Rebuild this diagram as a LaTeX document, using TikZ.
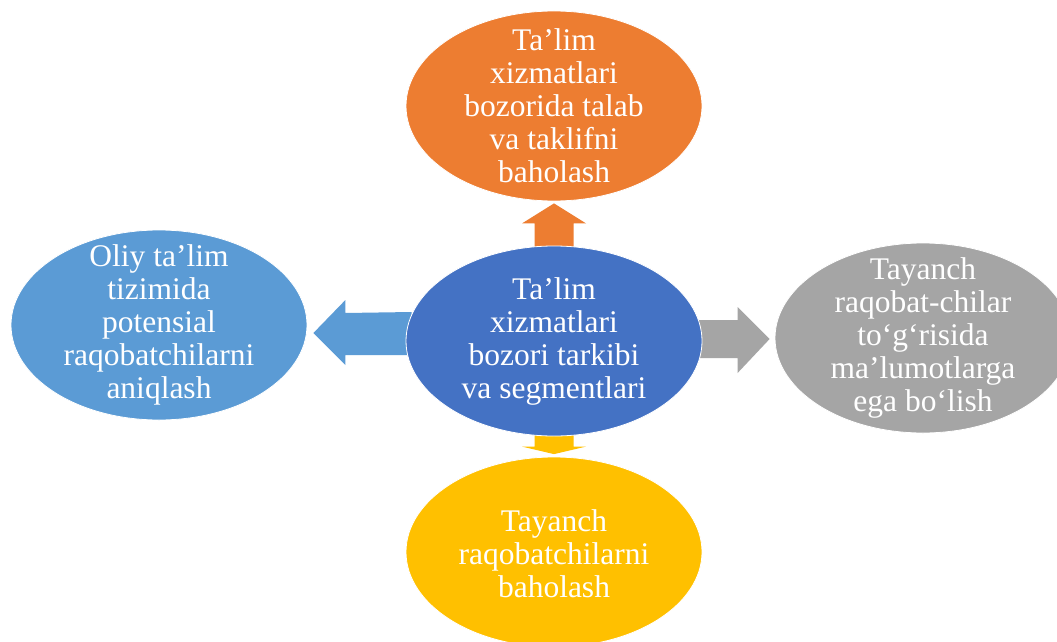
\documentclass[tikz,border=0pt]{standalone}
\usepackage{fontspec}
\setmainfont{Liberation Serif}
\newfontfamily\tnr{Liberation Serif}
\usetikzlibrary{shapes.geometric,calc}
\definecolor{corange}{HTML}{ED7D31}
\definecolor{cblue}{HTML}{4472C4}
\definecolor{clight}{HTML}{5B9BD5}
\definecolor{cgray}{HTML}{A5A5A5}
\definecolor{cyellow}{HTML}{FFC000}
\begin{document}
\begin{tikzpicture}[x=1pt,y=-1pt,
  blob/.style={ellipse,minimum width=296pt,minimum height=190pt,inner sep=0pt,draw=white,line width=0.8pt},
  txt/.style={text=white,align=center,font=\tnr\fontsize{31.5}{33}\selectfont,inner sep=0pt}]
\fill[white] (0,0) rectangle (1057,642);
\useasboundingbox (0,0) rectangle (1057,642);
\begin{scope}
\clip (0,0) rectangle (1057,642);
% outer ellipses
\node[blob,fill=corange] (top) at (554,106) {};
\node[blob,fill=clight] (left) at (159,325) {};
\node[blob,fill=cgray] (right) at (923,338) {};
\node[blob,fill=cyellow] (bottom) at (554,552) {};
% centre position (for anchors)
\node[blob,draw=none] (c0) at (554,341) {};
% arrows
\coordinate (ta) at ($(top.south)+(0,2)$);
\fill[corange] ($(c0.north)+(-19.5,6)$) -- ($(ta)+(-19.5,20)$) -- ($(ta)+(-32,20)$) -- (ta)
  -- ($(ta)+(32,20)$) -- ($(ta)+(19.5,20)$) -- ($(c0.north)+(19.5,6)$) -- cycle;
\coordinate (la) at ($(left.east)+(6,8)$);
\fill[clight] ($(c0.west)+(6,-29)$) -- ($(la)+(32,-20)$) -- ($(la)+(32,-33)$) -- (la)
  -- ($(la)+(32,32)$) -- ($(la)+(32,22)$) -- ($(c0.west)+(6,14)$) -- cycle;
\coordinate (ra) at ($(right.west)+(-5,1)$);
\fill[cgray] ($(c0.east)+(-4,-21)$) -- ($(ra)+(-32,-19)$) -- ($(ra)+(-32,-32)$) -- (ra)
  -- ($(ra)+(-32,34)$) -- ($(ra)+(-32,19)$) -- ($(c0.east)+(-4,17)$) -- cycle;
\coordinate (ba) at ($(bottom.north)+(0,-2.5)$);
\fill[cyellow] ($(c0.south)+(-19.5,-6)$) -- ($(ba)+(-19.5,-7.5)$) -- ($(ba)+(-32,-7.5)$) -- (ba)
  -- ($(ba)+(32,-7.5)$) -- ($(ba)+(19.5,-7.5)$) -- ($(c0.south)+(19.5,-6)$) -- cycle;
% centre ellipse
\node[blob,fill=cblue] (c) at (c0) {};
% texts
\node[txt] (ttop) at (top) {Ta’lim\\xizmatlari\\bozorida talab\\va taklifni\\baholash};
\node[txt] (tleft) at (left) {Oliy ta’lim\\tizimida\\potensial\\raqobatchilarni\\aniqlash};
\node[txt] (tright) at (right) {Tayanch\\raqobat-chilar\\to‘g‘risida\\ma’lumotlarga\\ega bo‘lish};
\node[txt] (tbottom) at ($(bottom)+(0,2)$) {Tayanch\\raqobatchilarni\\baholash};
\node[txt] (tc) at (c) {Ta’lim\\xizmatlari\\bozori tarkibi\\va segmentlari};
\end{scope}
\end{tikzpicture}
\end{document}
